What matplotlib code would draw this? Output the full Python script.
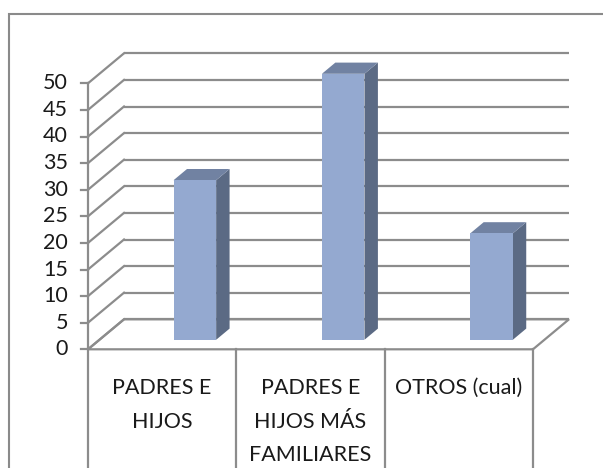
import matplotlib
matplotlib.use("Agg")
import matplotlib.pyplot as plt
from matplotlib.patches import Polygon, Rectangle

# ---- data ----
categories = ["PADRES E\nHIJOS", "PADRES E\nHIJOS MÁS\nFAMILIARES", "OTROS (cual)"]
values = [30, 50, 20]
y_ticks = [0, 5, 10, 15, 20, 25, 30, 35, 40, 45, 50]

# ---- style / geometry ----
W, H, DPI = 603, 468, 100
FRONT_X0, FRONT_W = 88.0, 148.33      # px of category 0 left edge, px per category
FRONT_Y0, PX_PER_UNIT = 349.3, 5.32   # px (from top) of value 0, px per value unit
DX = 36.0 / FRONT_W                   # depth offset in category units
DY = 30.0 / PX_PER_UNIT               # depth offset in value units
BAR_D0, BAR_D1 = 0.317, 0.69          # bar depth span (fraction of floor depth)
BAR_X0, BAR_W = 0.5, 0.287            # bar start within category, bar width

GRID = "#8c8c8c"
FACE, TOP, SIDE = "#94a9d0", "#7182a2", "#5b6a84"
FONT = "Lato"
FS = 15.5

plt.rcParams["font.family"] = [FONT, "DejaVu Sans"]
fig = plt.figure(figsize=(W / DPI, H / DPI), dpi=DPI)
ax = fig.add_axes([0, 0, 1, 1])
ax.set_xlim(-FRONT_X0 / FRONT_W, (W - FRONT_X0) / FRONT_W)
ax.set_ylim((FRONT_Y0 - H) / PX_PER_UNIT, FRONT_Y0 / PX_PER_UNIT)
ax.axis("off")

n = len(categories)
vmax = max(y_ticks)

def P(x, v, d=0.0):
    return (x + d * DX, v + d * DY)

lw = 1.6
# back wall gridlines and left wall diagonals
for v in y_ticks:
    ax.plot(*zip(P(0, v, 1), P(n, v, 1)), color=GRID, lw=lw, solid_capstyle="butt", zorder=1)
    ax.plot(*zip(P(0, v, 0), P(0, v, 1)), color=GRID, lw=lw, zorder=1)
# floor outline
floor = [P(0, 0, 0), P(n, 0, 0), P(n, 0, 1), P(0, 0, 1)]
ax.add_patch(Polygon(floor, closed=True, fill=False, edgecolor=GRID, lw=lw, zorder=1))
# front value axis
ax.plot([0, 0], [0, vmax], color=GRID, lw=lw, zorder=2)
tick_len = 7.0 / FRONT_W
for v in y_ticks:
    ax.plot([-tick_len, 0], [v, v], color=GRID, lw=lw, zorder=2)
    ax.annotate(str(v), xy=(0, v), xytext=(-20, 0), textcoords="offset pixels",
                ha="right", va="center", fontsize=FS, color="#1a1a1a")

# category table lines
bottom = ax.get_ylim()[0]
for i in range(n + 1):
    ax.plot([i, i], [0, bottom], color=GRID, lw=lw, zorder=2)

# bars (oblique 3D boxes)
for i, val in enumerate(values):
    x0 = i + BAR_X0
    x1 = x0 + BAR_W
    front = [P(x0, 0, BAR_D0), P(x1, 0, BAR_D0), P(x1, val, BAR_D0), P(x0, val, BAR_D0)]
    side = [P(x1, 0, BAR_D0), P(x1, 0, BAR_D1), P(x1, val, BAR_D1), P(x1, val, BAR_D0)]
    top = [P(x0, val, BAR_D0), P(x1, val, BAR_D0), P(x1, val, BAR_D1), P(x0, val, BAR_D1)]
    ax.add_patch(Polygon(side, closed=True, facecolor=SIDE, edgecolor="none", zorder=3))
    ax.add_patch(Polygon(top, closed=True, facecolor=TOP, edgecolor="none", zorder=3))
    ax.add_patch(Polygon(front, closed=True, facecolor=FACE, edgecolor="none", zorder=4))

# category labels
for i, lab in enumerate(categories):
    for j, line in enumerate(lab.split("\n")):
        ax.annotate(line, xy=(i + 0.5, 0), xytext=(0, -(45 + 33.3 * j)),
                    textcoords="offset pixels", ha="center", va="baseline",
                    fontsize=FS, color="#1a1a1a")

# chart frame (cropped: only top and left visible)
fig.patches.append(Rectangle((9 / W, -0.1), 1.2, (H - 14) / H + 0.1, transform=fig.transFigure,
                             fill=False, edgecolor="#8a8a8a", lw=1.5))

fig.savefig("out.png", dpi=DPI)
